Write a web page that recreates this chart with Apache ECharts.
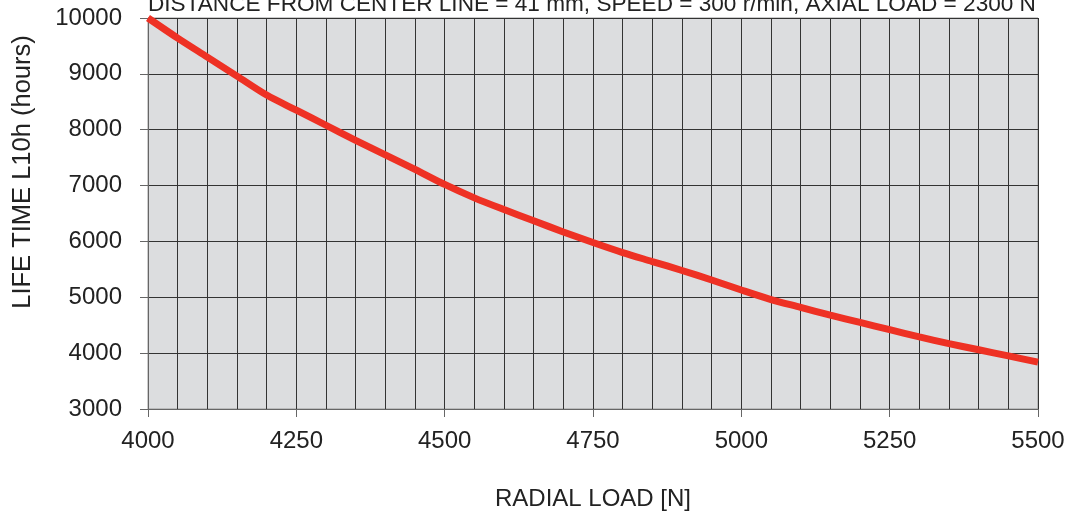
<!DOCTYPE html>
<html>
<head>
<meta charset="utf-8">
<script src="https://cdn.jsdelivr.net/npm/echarts@6/dist/echarts.min.js"></script>
<style>html,body{margin:0;padding:0;background:#fff}#c{width:1074px;height:512px}</style>
</head>
<body>
<div id="c"></div>
<script>
const titleText = 'DISTANCE FROM CENTER LINE = 41 mm, SPEED = 300 r/min, AXIAL LOAD = 2300 N';
const xAxisName = 'RADIAL LOAD [N]';
const yAxisName = 'LIFE TIME L10h (hours)';
const radialLoad = [4000,4050,4100,4150,4200,4250,4300,4350,4400,4450,4500,4550,4600,4650,4700,4750,4800,4850,4900,4950,5000,5050,5100,5150,5200,5250,5300,5350,5400,5450,5500];
const lifeTime = [10000,9640,9300,8960,8620,8350,8080,7810,7550,7290,7020,6780,6570,6370,6170,5980,5800,5640,5480,5310,5130,4960,4820,4680,4550,4420,4290,4170,4060,3950,3840];

const chart = echarts.init(document.getElementById('c'));
const font = 'Liberation Sans, Arial, sans-serif';
chart.setOption({
  animation: false,
  title: {
    text: titleText, left: 143, top: -12,
    textStyle: {fontFamily: font, fontSize: 22.6, fontWeight: 'normal', color: '#222'}
  },
  graphic: [{
    type: 'text', x: 23, y: 172, rotation: Math.PI / 2,
    style: {text: yAxisName, fontFamily: font, fontSize: 25.5, fill: '#222',
            textAlign: 'center', textVerticalAlign: 'middle'}
  }],
  grid: {
    left: 148, right: 36, top: 18, bottom: 103, show: true,
    outerBoundsMode: 'none', containLabel: false,
    backgroundColor: '#dcdddf', borderColor: '#999', borderWidth: 1
  },
  xAxis: {
    type: 'value', min: 4000, max: 5500, interval: 250,
    name: xAxisName, nameLocation: 'middle', nameGap: 78,
    nameTextStyle: {fontFamily: font, fontSize: 24, color: '#222'},
    axisLine: {show: true, lineStyle: {color: '#666', width: 1}},
    axisTick: {show: true, inside: false, length: 8, lineStyle: {color: '#666'}},
    axisLabel: {fontFamily: font, fontSize: 24, color: '#222', margin: 20, formatter: v => String(v)},
    splitLine: {show: true, lineStyle: {color: '#333', width: 1}},
    minorTick: {show: false, splitNumber: 5},
    minorSplitLine: {show: true, lineStyle: {color: '#333', width: 1}}
  },
  yAxis: {
    type: 'value', min: 3000, max: 10000, interval: 1000,
    axisLine: {show: true, lineStyle: {color: '#666', width: 1}},
    axisTick: {show: true, inside: false, length: 8, lineStyle: {color: '#666'}},
    axisLabel: {fontFamily: font, fontSize: 24, color: '#222', margin: 26, formatter: v => String(v)},
    splitLine: {show: true, lineStyle: {color: '#333', width: 1}}
  },
  series: [{
    type: 'line', smooth: 0.3, symbol: 'none',
    data: radialLoad.map((x, i) => [x, lifeTime[i]]),
    lineStyle: {color: '#ee3124', width: 7}
  }]
});
</script>
</body>
</html>
